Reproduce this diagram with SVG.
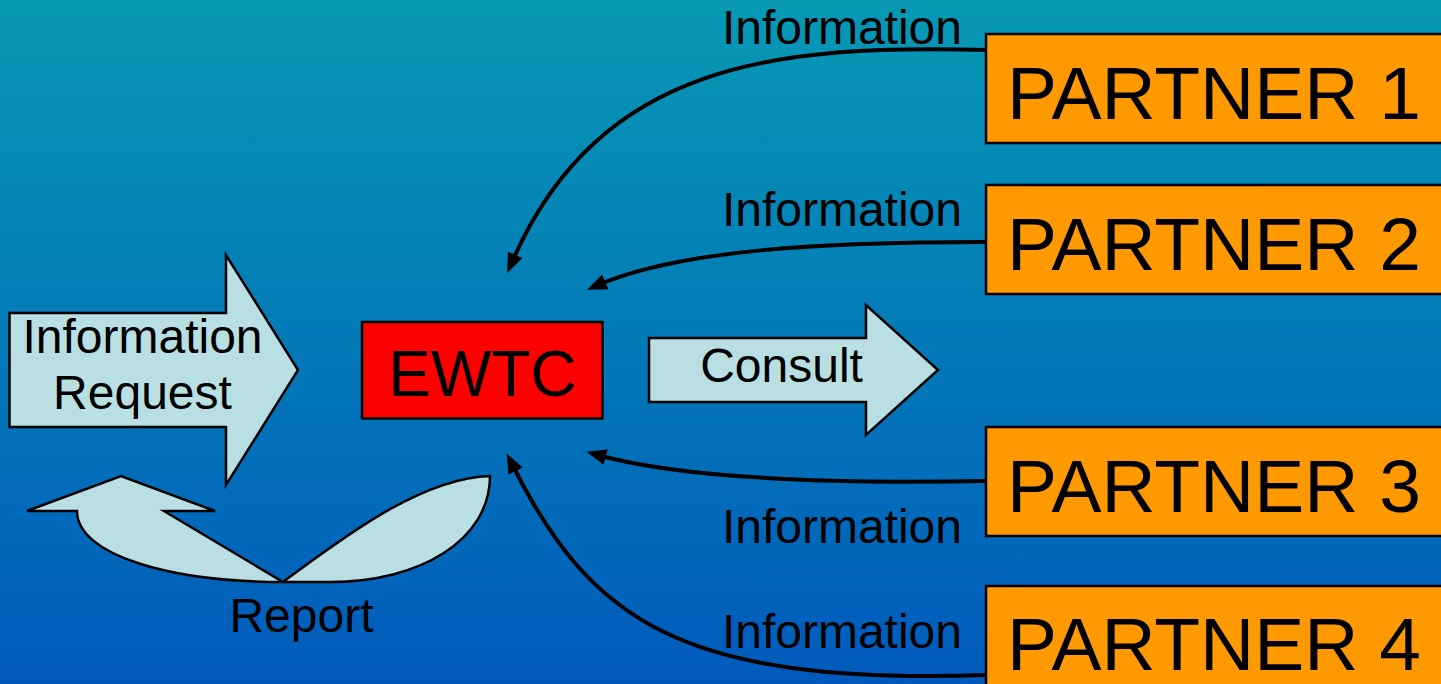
<svg xmlns="http://www.w3.org/2000/svg" width="1441" height="684" viewBox="0 0 1441 684">
  <defs>
    <linearGradient id="bg" x1="0" y1="0" x2="0" y2="1">
      <stop offset="0" stop-color="#0799B4"/>
      <stop offset="1" stop-color="#005ABC"/>
    </linearGradient>
    <marker id="head" markerUnits="userSpaceOnUse" markerWidth="20" markerHeight="16" viewBox="0 0 20 16" refX="8" refY="8" orient="auto">
      <path d="M0,0 L20,8 L0,16 Z" fill="#000"/>
    </marker>
    <style>
      text { font-family: "Liberation Sans", Arial, sans-serif; fill: #000; }
      .lbl { font-size: 48px; }
      .info { font-size: 48px; text-anchor: end; }
      .partner rect { fill: #FF9900; stroke: #000; stroke-width: 2.5; }
      .partner text { font-size: 75px; }
      .block { fill: #B9DFE3; stroke: #000; stroke-width: 2.5; stroke-linejoin: miter; }
      .conn { fill: none; stroke: #000; stroke-width: 4; marker-end: url(#head); }
    </style>
  </defs>

  <rect x="0" y="0" width="1441" height="684" fill="url(#bg)"/>

  <g id="info-request">
    <polygon class="block" points="9.5,313 226,313 226,255 298,370 226,485 226,427 9.5,427"/>
    <text class="lbl" x="142.5" y="353" text-anchor="middle">Information</text>
    <text class="lbl" x="142.5" y="409" text-anchor="middle">Request</text>
  </g>

  <g id="report">
    <path class="block" d="M27,511 L121,476 L215,511 L164,511 L283,582 C340,540 420,478 490,476 C490,540 420,582 330,582 L283,582 C170,582 77,555 77,511 Z"/>
    <text class="lbl" x="301.5" y="632" text-anchor="middle">Report</text>
  </g>

  <g id="ewtc">
    <rect x="362" y="322" width="240.5" height="96.5" fill="#FF0000" stroke="#000" stroke-width="2.5"/>
    <text x="482.5" y="396" font-size="64" text-anchor="middle">EWTC</text>
  </g>

  <g id="consult">
    <polygon class="block" points="649,338 866,338 866,305 938,370 866,435 866,402 649,402"/>
    <text class="lbl" x="781.5" y="382" text-anchor="middle">Consult</text>
  </g>

  <g id="partner1" class="partner">
    <rect x="986" y="34" width="500" height="109"/>
    <text x="1007" y="119">PARTNER 1</text>
  </g>
  <g id="partner2" class="partner">
    <rect x="986" y="185" width="500" height="109"/>
    <text x="1007" y="270">PARTNER 2</text>
  </g>
  <g id="partner3" class="partner">
    <rect x="986" y="427" width="500" height="109"/>
    <text x="1007" y="512">PARTNER 3</text>
  </g>
  <g id="partner4" class="partner">
    <rect x="986" y="586" width="500" height="120"/>
    <text x="1007" y="670">PARTNER 4</text>
  </g>

  <g id="connectors">
    <path class="conn" d="M986,50 C780,45 600,60 512,262"/>
    <path class="conn" d="M986,242 C820,242 680,250 598,285"/>
    <path class="conn" d="M986,481 C820,484 680,478 598,455"/>
    <path class="conn" d="M986,675 C680,685 590,620 512,464"/>
    <text class="info" x="962" y="44">Information</text>
    <text class="info" x="962" y="226">Information</text>
    <text class="info" x="962" y="543">Information</text>
    <text class="info" x="962" y="648">Information</text>
  </g>
</svg>
